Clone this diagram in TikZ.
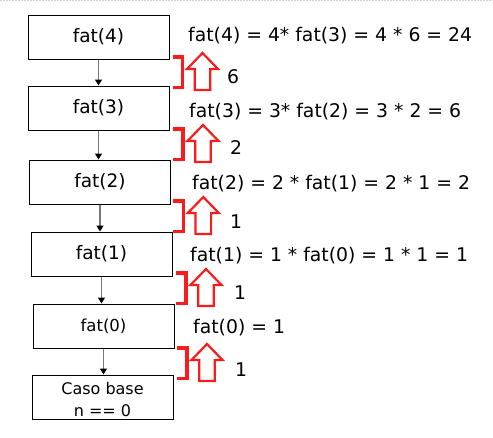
\documentclass[tikz,border=0pt]{standalone}
\usepackage{fontspec}
\setmainfont{DejaVu Sans}
\usetikzlibrary{arrows.meta}
\definecolor{redc}{RGB}{250,28,28}
\definecolor{linec}{RGB}{120,120,120}
\tikzset{
  box/.style={draw=black, line width=1pt, minimum width=141pt, minimum height=44pt, inner sep=0pt, font=\fontsize{18.5}{22}\selectfont},
  smallbox/.style={box, font=\fontsize{16.5}{21}\selectfont},
  eq/.style={anchor=base west, inner sep=0pt, font=\fontsize{18.8}{22}\selectfont},
  val/.style={inner sep=0pt, font=\fontsize{18.8}{22}\selectfont},
  callarrow/.style={draw=linec, line width=1.3pt, -{Triangle[length=6pt,width=7pt,color=black,fill=black]}},
  retval/.pic={
    \draw[redc, line width=3.6pt, line cap=butt, line join=miter] (-30,6) -- (-20,6) -- (-20,36.5) -- (-30,36.5);
    \draw[redc, line width=2.2pt, fill=white, line join=miter] (0,2) -- (15.5,18) -- (7.8,18) -- (7.8,39) -- (-7.8,39) -- (-7.8,18) -- (-15.5,18) -- cycle;
  }
}
\begin{document}
\begin{tikzpicture}[x=1pt,y=-1pt]
\useasboundingbox (0,0) rectangle (493,437);
\draw[gray!35, dash pattern=on 1.5pt off 1.5pt, line width=0.8pt] (0,0.6) -- (493,0.6);

% call boxes
\node[box] (b4) at (98.5,37) {fat(4)};
\node[box] (b3) at (98.5,108) {fat(3)};
\node[box] (b2) at (100,182) {fat(2)};
\node[box] (b1) at (101.5,254) {fat(1)};
\node[smallbox] (b0) at (103.5,326) {fat(0)};
\node[box, align=center, font=\fontsize{16}{22}\selectfont] (base) at (102.5,397) {\rule{0pt}{18pt}Caso base\\n == 0};

% call arrows
\draw[callarrow] (b4.south) -- (b4.south |- b3.north);
\draw[callarrow] (b3.south) -- (b3.south |- b2.north);
\draw[callarrow] (b2.south) -- (b2.south |- b1.north);
\draw[callarrow] (b1.south) -- (b1.south |- b0.north);
\draw[callarrow] (b0.south) -- (b0.south |- base.north);

% equations
\node[eq] (e4) at (188,41) {fat(4) = 4* fat(3) = 4 * 6 = 24};
\node[eq] (e3) at (189,117) {fat(3) = 3* fat(2) = 3 * 2 = 6};
\node[eq] (e2) at (192,189) {fat(2) = 2 * fat(1) = 2 * 1 = 2};
\node[eq] (e1) at (190,261) {fat(1) = 1 * fat(0) = 1 * 1 = 1};
\node[eq] (e0) at (193,333) {fat(0) = 1};

% return arrows
\pic at (202.5,51) {retval};
\pic at (203,123) {retval};
\pic at (203.3,195) {retval};
\pic at (206,267) {retval};
\pic at (207,342) {retval};

% returned values
\node[val] (v4) at (233,77) {6};
\node[val] (v3) at (236,148) {2};
\node[val] (v2) at (236,222) {1};
\node[val] (v1) at (240,293) {1};
\node[val] (v0) at (241,370) {1};
\end{tikzpicture}
\end{document}
